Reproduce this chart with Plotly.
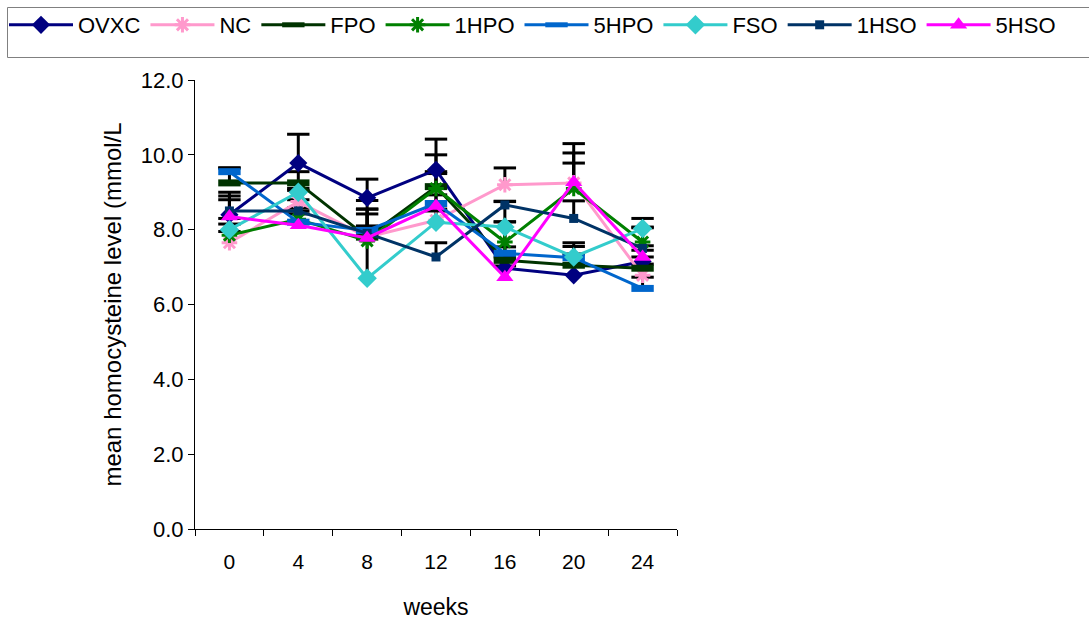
import plotly.graph_objects as go

weeks = ["0", "4", "8", "12", "16", "20", "24"]
series_names = ["OVXC", "NC", "FPO", "1HPO", "5HPO", "FSO", "1HSO", "5HSO"]

ovxc = [8.40, 9.78, 8.85, 9.60, 6.97, 6.78, 7.15]
nc = [7.65, 8.75, 7.80, 8.25, 9.20, 9.25, 6.78]
fpo = [9.25, 9.25, 7.80, 9.15, 7.18, 7.05, 6.97]
hpo1 = [7.85, 8.28, 7.70, 9.10, 7.67, 9.10, 7.67]
hpo5 = [9.55, 8.20, 7.98, 8.70, 7.37, 7.25, 6.43]
fso = [8.00, 9.00, 6.70, 8.20, 8.07, 7.27, 8.03]
hso1 = [8.50, 8.50, 7.90, 7.27, 8.66, 8.30, 7.50]
hso5 = [8.35, 8.12, 7.78, 8.63, 6.73, 9.27, 7.27]

ovxc_err = [0.60, 0.77, 0.50, 0.82, 0.30, 0.30, 0.30]
nc_err = [0.30, 0.30, 0.30, 0.30, 0.45, 0.80, 0.30]
fpo_err = [0.40, 0.30, 0.75, 0.40, 0.36, 0.30, 0.30]
hpo1_err = [0.30, 0.30, 0.30, 0.90, 1.08, 0.68, 0.40]
hpo5_err = [0.10, 0.30, 0.80, 0.80, 0.84, 0.30, 0.30]
fso_err = [0.30, 0.10, 1.72, 0.30, 0.14, 0.38, 0.27]
hso1_err = [0.40, 0.30, 0.65, 0.38, 0.10, 0.47, 0.55]
hso5_err = [0.45, 0.30, 0.30, 0.30, 0.30, 1.03, 0.30]

values = [ovxc, nc, fpo, hpo1, hpo5, fso, hso1, hso5]
errors = [ovxc_err, nc_err, fpo_err, hpo1_err, hpo5_err, fso_err, hso1_err, hso5_err]

colors = ["#000080", "#FF99CC", "#003300", "#008000", "#0066CC", "#33CCCC", "#003366", "#FF00FF"]
symbols = ["diamond", "asterisk-open", "line-ew-open", "asterisk-open", "line-ew-open", "diamond", "square", "triangle-up"]
msizes = [14, 13, 16, 13, 16, 15, 9, 15]
mlinew = [0, 3, 7, 3, 7, 0, 0, 0]

FONT = "Liberation Sans, Arial, sans-serif"
W, H = 1089, 620

fig = go.Figure()

# error bars (plus direction only)
for vals, errs in zip(values, errors):
    bx, by, cx, cy = [], [], [], []
    for w, v, e in zip(weeks, vals, errs):
        bx += [w, w, None]
        by += [v, v + e, None]
        cx.append(w)
        cy.append(v + e)
    fig.add_trace(go.Scatter(x=bx, y=by, mode="lines", line=dict(color="black", width=3),
                             showlegend=False, hoverinfo="skip"))
    fig.add_trace(go.Scatter(x=cx, y=cy, mode="markers",
                             marker=dict(symbol="line-ew-open", size=16, color="black",
                                         line=dict(color="black", width=3)),
                             showlegend=False, hoverinfo="skip"))

for name, vals, c, s, ms, lw in zip(series_names, values, colors, symbols, msizes, mlinew):
    marker = dict(symbol=s, size=ms, color=c)
    if lw:
        marker["line"] = dict(color=c, width=lw)
    fig.add_trace(go.Scatter(x=weeks, y=vals, name=name, mode="lines+markers",
                             line=dict(color=c, width=3), marker=marker))

fig.update_layout(
    width=W, height=H,
    paper_bgcolor="white", plot_bgcolor="white",
    margin=dict(l=0, r=0, t=0, b=0, autoexpand=False),
    font=dict(family=FONT, color="black", size=20),
    legend=dict(orientation="h", x=4 / W, y=(H - 4) / H, xanchor="left", yanchor="top",
                borderwidth=0, bgcolor="rgba(0,0,0,0)",
                font=dict(family=FONT, size=22, color="black"),
                itemwidth=64, tracegroupgap=0),
    xaxis=dict(domain=[195 / W, 677 / W], type="category", range=[-0.5, 6.5],
               tickson="boundaries", ticks="outside",
               ticklen=6, tickcolor="black", showline=True, linecolor="black", linewidth=1,
               showgrid=False, zeroline=False, tickfont=dict(size=21), ticklabelstandoff=14,
               title=dict(text="weeks", font=dict(size=23), standoff=30)),
    yaxis=dict(domain=[91 / H, 540 / H], range=[0, 12], dtick=2, tickformat=".1f",
               ticks="outside", ticklen=6,
               tickcolor="black", showline=True, linecolor="black", linewidth=1,
               showgrid=False, zeroline=False, tickfont=dict(size=22),
               title=dict(text="mean homocysteine level (mmol/L", font=dict(size=24), standoff=12)),
    shapes=[dict(type="rect", xref="paper", yref="paper",
                 x0=7.5 / W, x1=1.01, y0=(H - 57.5) / H, y1=(H - 7.5) / H,
                 line=dict(color="#808080", width=1), fillcolor="rgba(0,0,0,0)")],
)

fig.write_html("out.html")
